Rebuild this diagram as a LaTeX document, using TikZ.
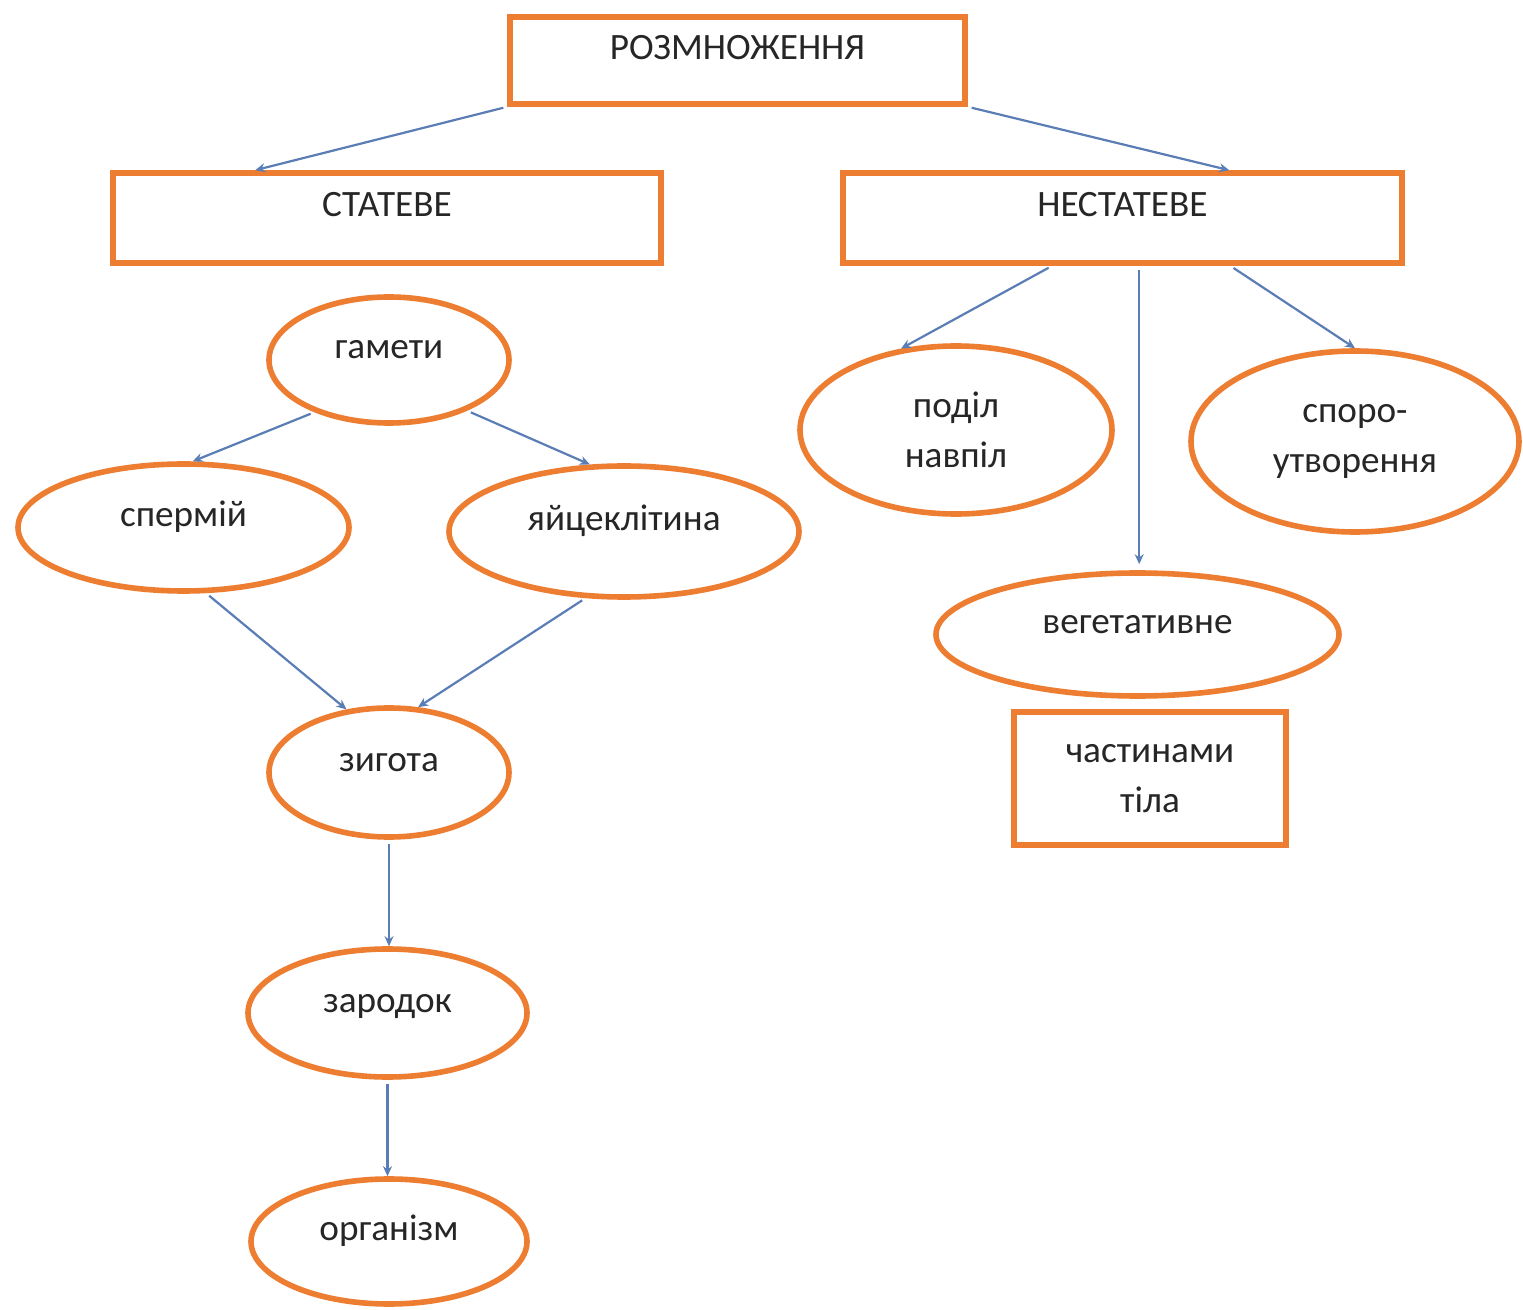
\documentclass[tikz,border=0pt]{standalone}
\usepackage{fontspec}
\setmainfont{Carlito}
\usetikzlibrary{shapes.geometric,arrows.meta,calc}
\definecolor{bord}{HTML}{ED7D31}
\definecolor{arr}{HTML}{5B7DB5}
\definecolor{txt}{HTML}{262626}
\begin{document}
\begin{tikzpicture}[x=0.5pt,y=-0.5pt,
 base/.style={draw=bord, line width=2.8pt, text=txt, font=\fontsize{18.6}{25}\selectfont, inner sep=0pt},
 box/.style={base, rectangle},
 oval/.style={base, ellipse},
 one/.style={text height=13pt, text depth=14pt},
 conn/.style={draw=arr, line width=1.1pt, -{Stealth[length=5pt,width=4.5pt]}, shorten <=2pt}
]
\useasboundingbox[fill=white] (0,0) rectangle (1523,1310);

\node[box,one, minimum width=227.5pt, minimum height=43.5pt] (root) at (737.5,60.5) {РОЗМНОЖЕННЯ};
\node[box,one, minimum width=274pt, minimum height=45pt] (stat) at (387,218) {СТАТЕВЕ};
\node[box,one, minimum width=279.5pt, minimum height=45pt] (nstat) at (1122.5,218) {НЕСТАТЕВЕ};
\node[box, align=center, minimum width=136pt, minimum height=66.5pt] (tila) at (1150,778.5) {частинами\\тіла};

\node[oval,one, minimum width=120pt, minimum height=63pt] (gameti) at (389,360) {гамети};
\node[oval,one, minimum width=165.5pt, minimum height=63.5pt] (spermij) at (183.5,527.5) {спермій};
\node[oval,one, minimum width=175pt, minimum height=65.5pt] (yajce) at (624,531.5) {яйцеклітина};
\node[oval,one, minimum width=120pt, minimum height=64.5pt] (zygota) at (389,772.5) {зигота};
\node[oval,one, minimum width=139.5pt, minimum height=64pt] (zarodok) at (387.5,1013) {зародок};
\node[oval,one, minimum width=138pt, minimum height=62.5pt] (organizm) at (389,1241.5) {організм};
\node[oval, align=center, minimum width=156pt, minimum height=84pt] (podil) at (956,430) {поділ\\навпіл};
\node[oval, align=center, minimum width=164pt, minimum height=90.5pt] (sporo) at (1355,441.5) {споро-\\утворення};
\node[oval,one, minimum width=201.5pt, minimum height=61.5pt] (veget) at (1137.5,634.5) {вегетативне};

\draw[conn] (root.south west) -- ($(stat.north west)+(145,0)$);
\draw[conn] (root.south east) -- ($(nstat.north west)+(389,0)$);
\draw[conn] ($(nstat.south west)+(212,0)$) -- (podil.124);
\coordinate (v0) at ($(nstat.south west)+(299,0)$);
\draw[conn] (v0) -- ($(v0 |- veget.north)+(0,-6)$);
\draw[conn] ($(nstat.south west)+(390,0)$) -- (sporo.north);
\draw[conn] (gameti.215) -- (spermij.82);
\draw[conn] (gameti.327) -- (yajce.117);
\draw[conn] (spermij.289) -- (zygota.124);
\draw[conn] (yajce.240) -- (zygota.66);
\draw[conn] (zygota.south) -- (zygota.south |- zarodok.north);
\draw[conn] (zarodok.south) -- (zarodok.south |- organizm.north);
\end{tikzpicture}
\end{document}
